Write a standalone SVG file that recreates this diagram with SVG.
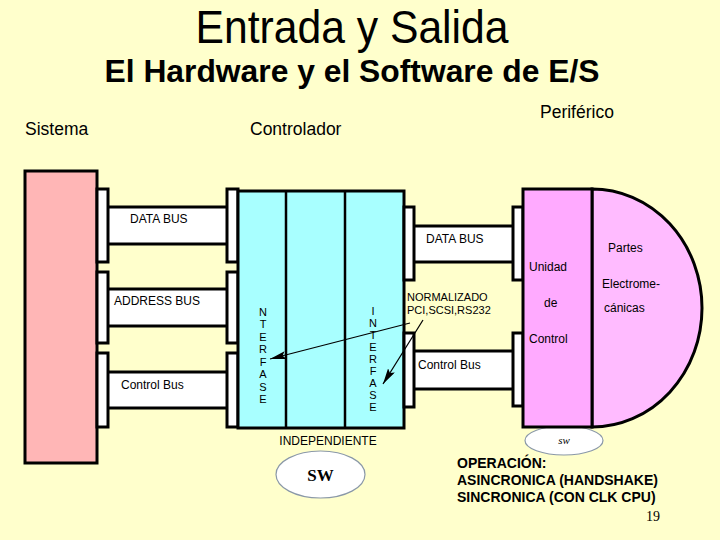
<svg xmlns="http://www.w3.org/2000/svg" width="720" height="540" viewBox="0 0 720 540">
<defs>
<style>
.t{font-family:"Liberation Sans",Arial,sans-serif;fill:#000}
.s{font-family:"Liberation Serif","Times New Roman",serif;fill:#000}
.box{stroke:#000;stroke-width:3}
.tab{fill:#fff;stroke:#000;stroke-width:3}
.bar{fill:#fff;stroke:#000;stroke-width:3}
.sm{font-size:12px}
.lt{font-size:11px;text-anchor:middle}
.hd{font-size:17.5px}
.op{font-size:14px;font-weight:bold}
</style>
<marker id="ah" viewBox="0 0 16 8" refX="16" refY="4" markerWidth="16" markerHeight="8" markerUnits="userSpaceOnUse" orient="auto">
<path d="M0,0 L16,4 L0,8 L3,4 Z" fill="#000"/>
</marker>
</defs>
<rect width="720" height="540" fill="#FFFFCC"/>

<g id="titles">
<text class="t" x="352" y="43" font-size="46" text-anchor="middle" textLength="313" lengthAdjust="spacingAndGlyphs">Entrada y Salida</text>
<text class="t" x="352" y="82" font-size="32" font-weight="bold" text-anchor="middle" textLength="495" lengthAdjust="spacingAndGlyphs">El Hardware y el Software de E/S</text>
<text class="t hd" x="540" y="118">Periférico</text>
<text class="t hd" x="25" y="135">Sistema</text>
<text class="t hd" x="250" y="135">Controlador</text>
</g>

<g id="buses">
<rect class="bar" x="106" y="207" width="123" height="37"/>
<rect class="bar" x="106" y="289" width="123" height="37"/>
<rect class="bar" x="106" y="372" width="123" height="36"/>
<text class="t sm" x="130" y="223">DATA BUS</text>
<text class="t sm" x="114" y="305">ADDRESS BUS</text>
<text class="t sm" x="121" y="389">Control Bus</text>
<rect class="bar" x="412" y="226" width="103" height="36"/>
<rect class="bar" x="412" y="351" width="103" height="38"/>
<text class="t sm" x="426" y="243">DATA BUS</text>
<text class="t sm" x="418" y="369">Control Bus</text>
</g>

<g id="sistema">
<rect class="box" x="25" y="171" width="72" height="292" fill="#FFB6B6"/>
<rect class="tab" x="97" y="189" width="11" height="73"/>
<rect class="tab" x="97" y="272" width="11" height="71"/>
<rect class="tab" x="97" y="353" width="11" height="74"/>
</g>

<g id="controlador">
<rect class="tab" x="227" y="189" width="11" height="73"/>
<rect class="tab" x="227" y="272" width="11" height="71"/>
<rect class="tab" x="227" y="353" width="11" height="74"/>
<rect class="box" x="238" y="191" width="166" height="237" fill="#A8FFFF"/>
<line x1="286" y1="191" x2="286" y2="428" stroke="#000" stroke-width="2.5"/>
<line x1="345" y1="191" x2="345" y2="428" stroke="#000" stroke-width="2.5"/>
<rect class="tab" x="404" y="207" width="10" height="73"/>
<rect class="tab" x="404" y="333" width="10" height="74"/>
<g class="t lt">
<text x="263" y="316">N</text><text x="263" y="328.4">T</text><text x="263" y="340.9">E</text><text x="263" y="353.3">R</text><text x="263" y="365.7">F</text><text x="263" y="378.1">A</text><text x="263" y="390.6">S</text><text x="263" y="403">E</text>
<text x="373" y="315">I</text><text x="373" y="327">N</text><text x="373" y="339">T</text><text x="373" y="351">E</text><text x="373" y="363">R</text><text x="373" y="375">F</text><text x="373" y="387">A</text><text x="373" y="399">S</text><text x="373" y="411">E</text>
</g>
<text class="t" x="328" y="445" font-size="12" text-anchor="middle">INDEPENDIENTE</text>
</g>

<g id="sw-ind">
<ellipse cx="320.5" cy="474.5" rx="44.5" ry="23.5" fill="#FFFFFF" stroke="#8A98A8" stroke-width="1.2"/>
<text class="s" x="320.5" y="481" font-size="17" font-weight="bold" text-anchor="middle">SW</text>
</g>

<g id="sw-per">
<ellipse cx="564" cy="440.5" rx="39" ry="14.5" fill="#FFFFFF" stroke="#8A98A8" stroke-width="1.2"/>
<text class="s" x="564" y="444" font-size="11" font-style="italic" text-anchor="middle">sw</text>
</g>

<g id="periferico">
<rect class="tab" x="513" y="207" width="10" height="73"/>
<rect class="tab" x="513" y="333" width="10" height="73"/>
<path class="box" d="M592,189 A110,119 0 0 1 592,427 Z" fill="#FFBBFF"/>
<rect class="box" x="523" y="189" width="69" height="238" fill="#FFAAFF"/>
<text class="t sm" x="529" y="271">Unidad</text>
<text class="t sm" x="544" y="307">de</text>
<text class="t sm" x="529" y="343">Control</text>
<text class="t sm" x="608" y="252">Partes</text>
<text class="t sm" x="602" y="288">Electrome-</text>
<text class="t sm" x="604" y="312">cánicas</text>
</g>

<g id="normalizado">
<text class="t" x="407" y="301" font-size="11">NORMALIZADO</text>
<text class="t" x="407" y="314" font-size="11">PCI,SCSI,RS232</text>
</g>

<g id="connectors" stroke="#000" stroke-width="1.2" fill="none">
<line x1="410" y1="323" x2="270" y2="359" marker-end="url(#ah)"/>
<line x1="423" y1="320" x2="383" y2="384" marker-end="url(#ah)"/>
</g>

<g id="operacion">
<text class="t op" x="457" y="468">OPERACIÓN:</text>
<text class="t op" x="457" y="485">ASINCRONICA (HANDSHAKE)</text>
<text class="t op" x="457" y="502">SINCRONICA (CON CLK CPU)</text>
<text class="s" x="646" y="521" font-size="14">19</text>
</g>
</svg>
